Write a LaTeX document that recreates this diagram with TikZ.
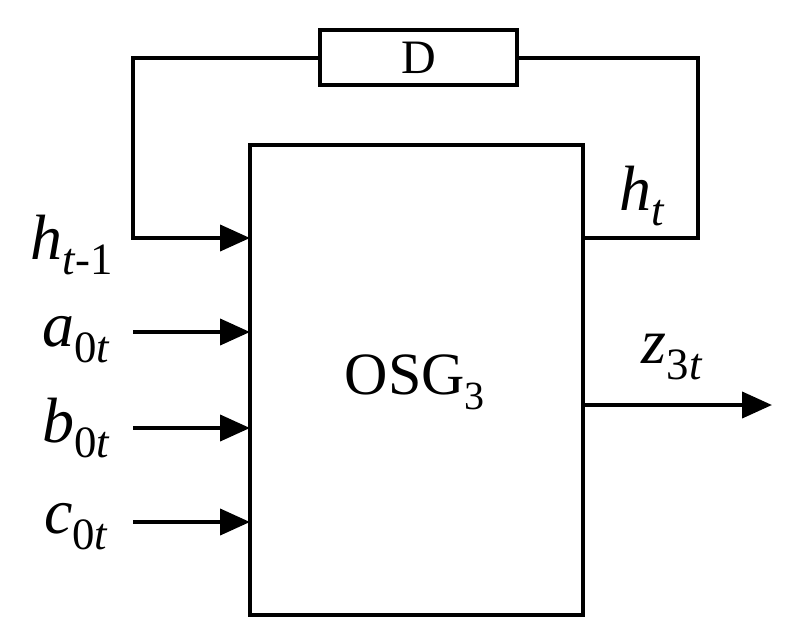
\documentclass[tikz,border=0pt]{standalone}
\usepackage{fontspec}
\setmainfont{Liberation Serif}
\usepackage{unicode-math}
\setmathfont{Latin Modern Math}
\setmathfont[range={it}]{Liberation Serif Italic}
\setmathfont[range={up}]{Liberation Serif}
\usetikzlibrary{arrows.meta}

\tikzset{
  wire/.style={line width=4pt},
  arr/.style={wire,-{Triangle[length=30pt,width=26pt]}},
  lbl/.style={inner sep=0pt,font=\fontsize{64}{64}\selectfont},
}

\begin{document}
\begin{tikzpicture}[x=1pt,y=1pt,yscale=-1,xscale=1]
		\useasboundingbox (0,0) rectangle (789,638);
		
		%Main block
		\node (osg) [wire,draw,minimum width=333pt,minimum height=470pt,inner sep=0pt] at (416.5,380) {};
		\node [inner sep=0pt,font=\fontsize{60}{60}\selectfont] at (415,382) {OSG\textsubscript{\fontsize{40}{40}\selectfont 3}};
		%Delay block
		\node (dly) [wire,draw,minimum width=197pt,minimum height=55pt,inner sep=0pt,font=\fontsize{48}{48}\selectfont] at (418.5,57.5) {D};
		
		%Feedback loop
		\coordinate (fbr) at (583,238);
		\coordinate (fbl) at (133,238);
		\draw [wire] (fbr) -- (698,238) -- (698,57.5) -- (dly.east);
		\draw [arr] (dly.west) -- (133,57.5) -- (fbl) -- (250,238);
		
		%Inputs
		\coordinate (ia) at (133,332);
		\coordinate (ib) at (133,428);
		\coordinate (ic) at (133,522);
		\draw [arr] (ia) -- (250,332);
		\draw [arr] (ib) -- (250,428);
		\draw [arr] (ic) -- (250,522);
		%Output
		\coordinate (oz) at (772,405);
		\draw [arr] (583,405) -- (oz);
		
		% Text Nodes
		\node (lh1) [lbl] at (72,245) {$h_{t\text{-}1}$};
		\node (la) [lbl] at (76,340) {$a_{0t}$};
		\node (lb) [lbl] at (76,428) {$b_{0t}$};
		\node (lc) [lbl] at (76,527) {$c_{0t}$};
		\node (lh) [lbl] at (642,196) {$h_t$};
		\node (lz) [lbl] at (672,357) {$z_{3t}$};
		
\end{tikzpicture}
\end{document}
